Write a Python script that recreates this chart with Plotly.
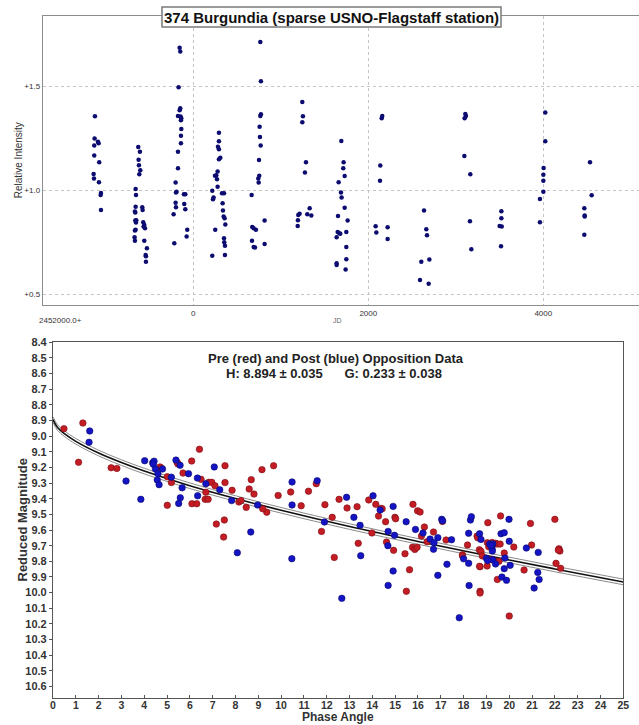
import plotly.graph_objects as go

W, H = 639, 725

# ---------------- Top chart data (JD - 2452000, relative intensity) -------------
jd = [
    -1124, -1128, -1132, -1090, -1082, -1132, -1075, -1139, -1135, -1078, -1055, -1059, -1055,
    -629, -610, -625, -621, -606, -617, -659, -655, -659, -667, -663, -583, -579, -663, -655, -652,
    -667, -659, -671, -667, -572, -560, -568, -552, -560, -530, -545, -541, -541,
    -156, -149, -168, -149, -156, -175, -145, -137, -141, -137, -141, -141, -175, -175, -202, -191,
    -198, -107, -91, -202, -198, -103, -91, -225, -69, -76, -217,
    293, 293, 282, 293, 309, 293, 278, 263, 248, 271, 278, 217, 232, 225, 328, 351, 335, 339, 347,
    358, 366, 251, 351, 354, 362, 362, 217,
    766, 773, 773, 766, 758, 762, 770, 751, 754, 743, 747, 667, 674, 690, 716, 815, 671, 690, 705, 815,
    1246, 1253, 1246, 1288, 1276, 1215, 1200, 1196, 1193, 1330, 1303, 1349,
    1692, 1718, 1714, 1730, 1661, 1688, 1695, 1730, 1654, 1764, 1650, 1669, 1680, 1638, 1749, 1749,
    1638, 1638, 1749, 1741,
    2160, 2153, 2137, 2134, 2084, 2092, 2221, 2221,
    2637, 2663, 2671, 2606, 2698, 2591, 2690,
    3109, 3116, 3101, 3098, 3166, 3162, 3178,
    3521, 3521, 3501, 3525, 3517,
    4023, 4023, 4004, 4001, 4001, 4001, 3962, 3962,
    4534, 4553, 4469, 4473, 4473, 4469,
]
rel_int = [
    1.357, 1.250, 1.216, 1.235, 1.227, 1.168, 1.136, 1.079, 1.057, 1.039, 0.988, 0.978, 0.906,
    1.209, 1.187, 1.148, 1.121, 1.097, 1.078, 1.007, 0.978, 0.922, 0.898, 0.894, 0.919, 0.906, 0.855, 0.845, 0.856,
    0.807, 0.810, 0.774, 0.757, 0.847, 0.834, 0.826, 0.818, 0.758, 0.722, 0.689, 0.683, 0.657,
    1.688, 1.669, 1.497, 1.396, 1.387, 1.359, 1.356, 1.348, 1.338, 1.296, 1.264, 1.227, 1.187, 1.107, 1.038, 0.994,
    0.990, 0.982, 0.982, 0.941, 0.919, 0.935, 0.909, 0.885, 0.810, 0.778, 0.746,
    1.278, 1.237, 1.211, 1.198, 1.158, 1.150, 1.091, 1.073, 1.071, 1.054, 1.018, 0.998, 0.966, 0.958, 0.986, 0.986, 0.938, 0.903, 0.874,
    0.866, 0.836, 0.811, 0.770, 0.750, 0.733, 0.689, 0.685,
    1.715, 1.526, 1.367, 1.359, 1.307, 1.258, 1.216, 1.147, 1.071, 1.057, 1.038, 0.978, 0.824, 0.818, 0.811, 0.855, 0.757, 0.728, 0.725, 0.742,
    1.426, 1.357, 1.328, 1.136, 1.086, 0.888, 0.882, 0.856, 0.829, 0.914, 0.885, 0.879,
    1.238, 1.136, 1.107, 1.070, 1.039, 0.990, 0.966, 0.917, 0.877, 0.855, 0.800, 0.794, 0.791, 0.774, 0.800, 0.728,
    0.649, 0.641, 0.669, 0.619,
    1.359, 1.348, 1.120, 1.047, 0.827, 0.797, 0.823, 0.766,
    0.903, 0.813, 0.784, 0.657, 0.667, 0.569, 0.550,
    1.368, 1.359, 1.348, 1.166, 1.078, 0.852, 0.717,
    0.900, 0.866, 0.829, 0.826, 0.731,
    1.376, 1.237, 1.108, 1.076, 1.047, 0.994, 0.959, 0.847,
    1.136, 0.977, 0.914, 0.879, 0.874, 0.787,
]
top_x_ticks = [0, 2000, 4000]
top_x_ticktext = ["0", "2000", "4000"]
top_y_ticks = [0.5, 1.0, 1.5]
top_y_ticktext = ["+0.5", "+1.0", "+1.5"]

# ---------------- Bottom chart data (phase angle, reduced magnitude) ------------
pre_phase = [
    0.48, 1.31, 1.12, 2.55, 2.80, 4.69, 4.76, 5.01, 5.01, 5.19, 5.44, 5.48, 5.70, 6.08, 6.09, 6.30,
    6.42, 6.49, 6.70, 6.67, 6.80, 6.83, 6.96, 7.10, 7.16, 7.51, 7.54, 7.54, 7.85, 7.48, 8.15, 8.24,
    8.47, 8.60, 8.69, 8.81, 9.16, 9.37, 9.19, 9.67, 9.87, 10.42, 10.88, 11.20, 11.54, 11.92, 12.24,
    11.77, 12.54, 12.89, 13.33, 13.38, 12.33, 13.84, 14.15, 14.27, 14.38, 14.43, 14.58, 14.99, 15.02,
    13.98, 14.62, 14.93, 15.43, 15.49, 15.63, 15.76, 15.86, 15.96, 15.78, 15.98, 16.09, 16.28, 16.15,
    16.40, 16.68, 17.23, 17.07, 17.95, 17.95, 18.17, 18.59, 18.62, 18.69, 18.76, 18.72, 18.72, 18.72,
    18.82, 19.04, 19.06, 19.10, 19.21, 19.25, 19.35, 19.40, 19.48, 19.55, 19.62, 19.60, 19.48, 19.78,
    20.00, 20.20, 20.65, 20.93, 20.98, 22.00, 22.05, 22.18, 22.22, 22.15, 22.25, 19.03, 18.70,
]
pre_mag = [
    8.952, 8.916, 9.167, 9.202, 9.206, 9.197, 9.205, 9.259, 9.442, 9.297, 9.167, 9.178, 9.236, 9.159, 9.432, 9.432,
    9.084, 9.276, 9.359, 9.404, 9.404, 9.295, 9.295, 9.317, 9.562, 9.536, 9.189, 9.297, 9.346, 9.645, 9.421, 9.412,
    9.455, 9.338, 9.278, 9.370, 9.214, 9.486, 9.464, 9.189, 9.379, 9.357, 9.445, 9.352, 9.304, 9.438, 9.519,
    9.609, 9.404, 9.459, 9.451, 9.685, 9.775, 9.408, 9.436, 9.511, 9.462, 9.464, 9.547, 9.519, 9.528,
    9.619, 9.677, 9.730, 9.752, 9.992, 9.854, 9.711, 9.724, 9.711, 9.436, 9.477, 9.485, 9.581, 9.639,
    9.675, 9.613, 9.664, 9.545, 9.758, 9.766, 9.696, 9.639, 9.650, 9.726, 9.736, 9.835, 9.992, 10.003,
    9.766, 9.681, 9.553, 9.707, 9.790, 9.680, 9.795, 9.685, 9.690, 9.800, 9.510, 9.690, 9.916, 9.747,
    10.150, 9.709, 9.856, 9.558, 9.696, 9.532, 9.813, 9.720, 9.735, 9.728, 9.845, 9.830, 9.832,
]
post_phase = [
    1.61, 1.58, 3.20, 3.85, 4.02, 4.37, 4.43, 4.40, 4.49, 4.60, 4.80, 4.57, 4.65, 5.19, 5.39, 5.57,
    5.51, 5.58, 5.66, 5.94, 6.34, 6.33, 6.70, 7.07, 7.31, 7.83, 8.97, 8.67, 8.08, 10.48, 10.48, 10.47,
    11.58, 11.90, 12.87, 13.19, 13.46, 13.49, 12.66, 14.03, 14.34, 14.91, 14.69, 14.97, 14.68, 14.91,
    14.69, 15.48, 15.89, 16.22, 16.53, 16.87, 17.47, 16.70, 16.68, 17.04, 17.08, 18.30, 18.34, 19.99,
    18.22, 18.70, 18.76, 19.14, 19.28, 19.64, 19.78, 19.25, 19.26, 19.00, 19.28, 19.40, 19.78, 19.68,
    19.88, 18.24, 16.87, 17.27, 18.00, 18.22, 17.81, 19.81, 20.04, 20.00, 20.75, 21.25, 21.31, 21.09,
    21.27, 19.20, 19.05,
]
post_mag = [
    8.967, 9.039, 9.287, 9.404, 9.157, 9.170, 9.160, 9.180, 9.210, 9.240, 9.210, 9.280, 9.310, 9.262, 9.153, 9.186,
    9.430, 9.394, 9.330, 9.240, 9.381, 9.268, 9.304, 9.197, 9.343, 9.412, 9.440, 9.613, 9.745, 9.293, 9.440, 9.783,
    9.285, 9.549, 9.391, 9.519, 9.570, 9.764, 10.037, 9.381, 9.472, 9.449, 9.609, 9.634, 9.700, 9.862,
    9.954, 9.547, 9.596, 9.619, 9.658, 9.649, 9.662, 9.681, 9.723, 9.532, 9.541, 9.536, 9.515, 9.532,
    9.621, 9.624, 9.660, 9.689, 9.689, 9.624, 9.617, 9.720, 9.735, 9.780, 9.790, 9.817, 9.847, 9.901,
    9.922, 9.955, 9.890, 9.819, 9.784, 9.813, 10.161, 9.779, 9.826, 9.672, 9.715, 9.871, 9.916, 9.971,
    9.743, 9.700, 9.795,
]
# H-G fit curve (H = 8.894, G = 0.233), sampled at these phase angles
fit_phase = [0, 0.2, 0.5, 1, 2, 3, 4, 6, 8, 10, 13, 16, 19, 22, 25]
fit_mag = [8.894, 8.945, 8.984, 9.033, 9.108, 9.169, 9.223, 9.317, 9.399, 9.474, 9.578, 9.673, 9.763, 9.849, 9.932]
fit_band = 0.018

def px_x(p):
    return p / W

def px_y(p):
    return 1 - p / H

fig = go.Figure()

# top scatter
fig.add_trace(go.Scatter(
    x=jd, y=rel_int, mode="markers", xaxis="x", yaxis="y",
    marker=dict(size=4.5, color="#0c0c70"), hoverinfo="skip"))

# bottom fit band + curve
fig.add_trace(go.Scatter(
    x=fit_phase, y=[m - fit_band for m in fit_mag], mode="lines", xaxis="x2", yaxis="y2",
    line=dict(color="#8a8a8a", width=1, shape="spline"), hoverinfo="skip"))
fig.add_trace(go.Scatter(
    x=fit_phase, y=[m + fit_band for m in fit_mag], mode="lines", xaxis="x2", yaxis="y2",
    line=dict(color="#8a8a8a", width=1, shape="spline"), hoverinfo="skip"))
fig.add_trace(go.Scatter(
    x=fit_phase, y=fit_mag, mode="lines", xaxis="x2", yaxis="y2",
    line=dict(color="#111111", width=1.6, shape="spline"), hoverinfo="skip"))

fig.add_trace(go.Scatter(
    x=pre_phase, y=pre_mag, mode="markers", xaxis="x2", yaxis="y2",
    marker=dict(size=6.5, color="#c41c24", line=dict(width=0.6, color="#7a1015")), hoverinfo="skip"))
fig.add_trace(go.Scatter(
    x=post_phase, y=post_mag, mode="markers", xaxis="x2", yaxis="y2",
    marker=dict(size=6.5, color="#1414c4", line=dict(width=0.6, color="#0a0a70")), hoverinfo="skip"))

small = dict(family="Arial, Liberation Sans, sans-serif", size=8, color="#333333")
bold11 = dict(family="Arial, Liberation Sans, sans-serif", size=11, color="#333333", weight="bold")
bold10 = dict(family="Arial, Liberation Sans, sans-serif", size=10.5, color="#333333", weight="bold")

fig.update_layout(
    width=W, height=H, margin=dict(l=0, r=0, t=0, b=0, autoexpand=False),
    paper_bgcolor="white", plot_bgcolor="white", showlegend=False,
    xaxis=dict(
        domain=[px_x(42.7), 1.0], anchor="y", range=[-1721, 5094],
        tickvals=top_x_ticks, ticktext=top_x_ticktext, tickfont=small,
        showgrid=True, gridcolor="#c4c4c4", griddash="dot", gridwidth=1,
        showline=True, linecolor="#8c8c8c", linewidth=1, mirror=True,
        zeroline=False, ticks="", automargin=False),
    yaxis=dict(
        domain=[px_y(305), px_y(15.7)], anchor="x", range=[0.448, 1.842],
        tickvals=top_y_ticks, ticktext=top_y_ticktext, tickfont=small,
        showgrid=True, gridcolor="#c4c4c4", griddash="dot", gridwidth=1,
        showline=True, linecolor="#8c8c8c", linewidth=1,
        zeroline=False, ticks="", automargin=False),
    xaxis2=dict(
        domain=[px_x(53), px_x(623.3)], anchor="y2", range=[0, 25],
        tick0=0, dtick=1, tickfont=bold10, ticklabelstandoff=-3,
        showgrid=False, zeroline=False,
        showline=True, linecolor="#555555", linewidth=1.2, mirror=True,
        ticks="inside", ticklen=3, tickcolor="#555555", automargin=False),
    yaxis2=dict(
        domain=[px_y(698.3), px_y(341.7)], anchor="x2", range=[10.676, 8.396],
        tick0=8.4, dtick=0.1, tickformat=".1f", tickfont=bold11,
        showgrid=False, zeroline=False,
        showline=True, linecolor="#555555", linewidth=1.2, mirror=True,
        ticks="outside", ticklen=3, tickcolor="#555555", automargin=False),
    shapes=[
        dict(type="rect", xref="paper", yref="paper",
             x0=px_x(162), x1=px_x(501), y0=px_y(27), y1=px_y(7),
             fillcolor="white", line=dict(color="#7a7a7a", width=1.5), layer="above"),
    ],
    annotations=[
        dict(text="<b>374 Burgundia (sparse USNO-Flagstaff station)</b>", xref="paper", yref="paper",
             x=px_x(331.5), y=px_y(17), showarrow=False, xanchor="center", yanchor="middle",
             font=dict(family="Arial, Liberation Sans, sans-serif", size=15, color="#111111")),
        dict(text="Relative Intensity", xref="paper", yref="paper", x=px_x(18.3), y=px_y(160),
             showarrow=False, textangle=-90, xanchor="center", yanchor="middle",
             font=dict(family="Arial, Liberation Sans, sans-serif", size=10, color="#333333")),
        dict(text="2452000.0+", xref="paper", yref="paper", x=px_x(60), y=px_y(320),
             showarrow=False, xanchor="center", yanchor="middle", font=small),
        dict(text="JD", xref="paper", yref="paper", x=px_x(337.5), y=px_y(320),
             showarrow=False, xanchor="center", yanchor="middle",
             font=dict(family="Arial, sans-serif", size=7, color="#666666")),
        dict(text="<b>Pre (red) and Post (blue) Opposition Data</b>", xref="paper", yref="paper",
             x=px_x(336), y=px_y(358), showarrow=False, xanchor="center", yanchor="middle",
             font=dict(family="Arial, Liberation Sans, sans-serif", size=13, color="#222222")),
        dict(text="<b>H: 8.894 \u00b1 0.035\u00a0\u00a0\u00a0\u00a0\u00a0\u00a0G: 0.233 \u00b1 0.038</b>",
             xref="paper", yref="paper",
             x=px_x(334), y=px_y(373), showarrow=False, xanchor="center", yanchor="middle",
             font=dict(family="Arial, Liberation Sans, sans-serif", size=13, color="#222222")),
        dict(text="<b>Reduced Magnitude</b>", xref="paper", yref="paper", x=px_x(21.5), y=px_y(520),
             showarrow=False, textangle=-90, xanchor="center", yanchor="middle",
             font=dict(family="Arial, Liberation Sans, sans-serif", size=13, color="#333333")),
        dict(text="<b>Phase Angle</b>", xref="paper", yref="paper", x=px_x(338), y=px_y(725),
             showarrow=False, xanchor="center", yanchor="bottom", borderpad=0,
             font=dict(family="Arial, Liberation Sans, sans-serif", size=12, color="#333333")),
    ],
)

fig.write_html(
    "out.html",
    config={"displayModeBar": False},
    post_script="document.body.style.margin='0';document.body.style.padding='0';"
                "document.documentElement.style.overflow='hidden';",
)
